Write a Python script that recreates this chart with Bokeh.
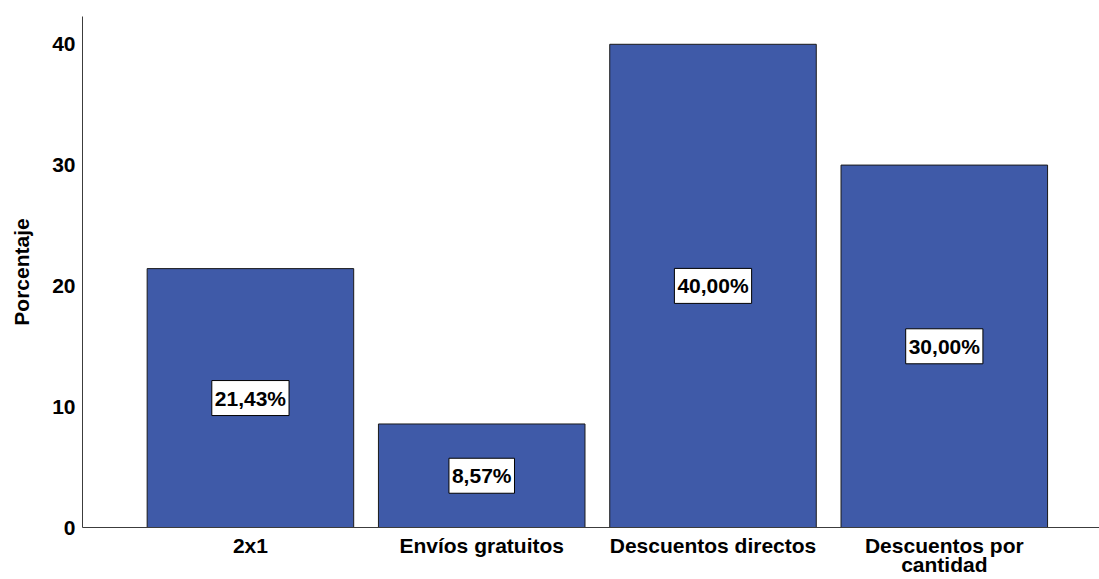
from bokeh.plotting import figure
from bokeh.models import ColumnDataSource, Label, Range1d, FixedTicker
from bokeh.embed import file_html
from bokeh.resources import INLINE

categories = ["2x1", "Envíos gratuitos", "Descuentos directos", "Descuentos por\ncantidad"]
values = [21.43, 8.57, 40.00, 30.00]
labels = ["21,43%", "8,57%", "40,00%", "30,00%"]
y_ticks = [0, 10, 20, 30, 40]

xs = list(range(len(categories)))
src = ColumnDataSource(dict(x=xs, top=values))

FONT = "Liberation Sans"

p = figure(width=1099, height=579, output_backend="svg", toolbar_location=None,
           x_range=Range1d(-0.726, 3.671), y_range=Range1d(0, 42.3),
           min_border_top=16, min_border_right=0, min_border_left=82, min_border_bottom=51)
p.outline_line_color = None
p.grid.grid_line_color = None
p.background_fill_color = "white"

p.vbar(x="x", top="top", bottom=0, width=0.893, source=src,
       fill_color="#3F5AA8", line_color="#1a1a1a", line_width=1)

for xi, v, t in zip(xs, values, labels):
    p.add_layout(Label(x=xi, y=v / 2, text=t,
                       text_align="center", text_baseline="middle",
                       text_font=FONT, text_font_size="21px", text_font_style="bold",
                       text_color="black",
                       background_fill_color="white", border_line_color="black",
                       border_line_width=1,
                       padding=dict(left=3, right=3, top=6, bottom=6)))

p.yaxis.ticker = FixedTicker(ticks=y_ticks)
p.yaxis.axis_label = "Porcentaje"
p.yaxis.axis_label_text_font = FONT
p.yaxis.axis_label_text_font_style = "bold"
p.yaxis.axis_label_text_font_size = "21px"
p.yaxis.axis_label_text_color = "black"
p.yaxis.axis_label_standoff = 16
p.yaxis.major_label_text_font = FONT
p.yaxis.major_label_text_font_style = "bold"
p.yaxis.major_label_text_font_size = "21px"
p.yaxis.major_label_text_color = "black"
p.yaxis.major_label_standoff = 1

p.xaxis.ticker = FixedTicker(ticks=xs)
p.xaxis.major_label_overrides = {i: c for i, c in zip(xs, categories)}
p.xaxis.major_label_text_font = FONT
p.xaxis.major_label_text_font_style = "bold"
p.xaxis.major_label_text_font_size = "21px"
p.xaxis.major_label_text_line_height = 0.85
p.xaxis.major_label_text_color = "black"
p.xaxis.major_label_standoff = 0

for ax in (p.xaxis, p.yaxis):
    ax.major_tick_line_color = None
    ax.minor_tick_line_color = None
    ax.axis_line_color = "#3c3c3c"
    ax.axis_line_width = 1

open("out.html", "w").write(file_html(p, INLINE))
